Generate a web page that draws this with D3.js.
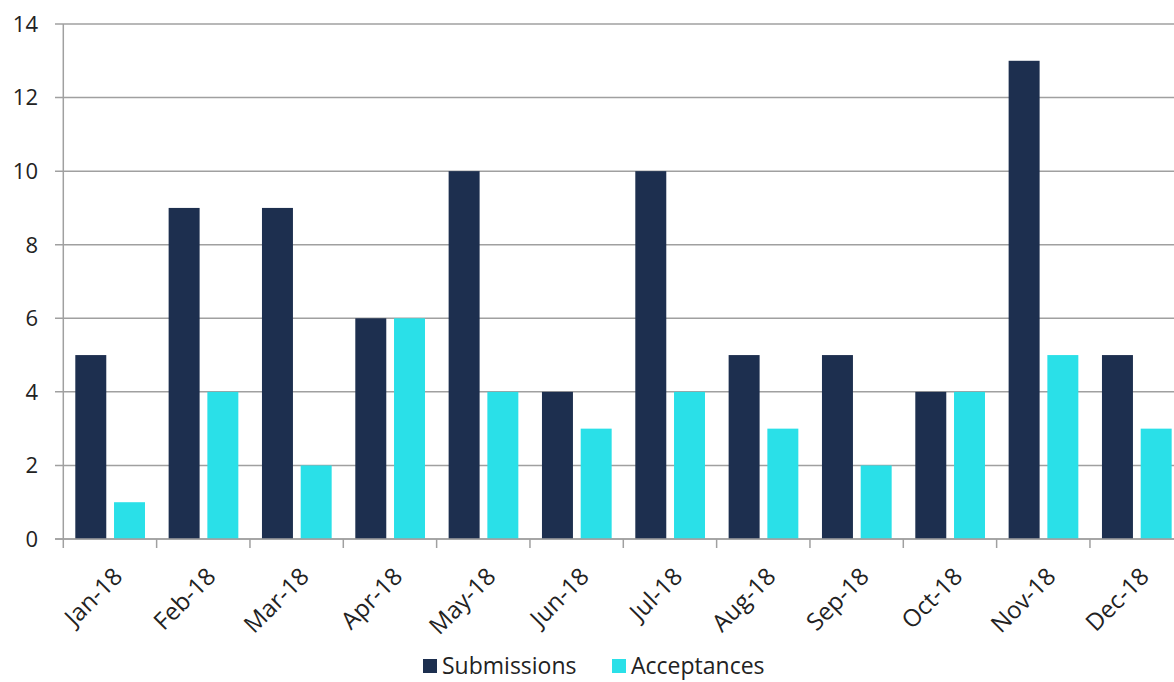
<!DOCTYPE html>
<html>
<head>
<meta charset="utf-8">
<script src="https://cdn.jsdelivr.net/npm/d3@7"></script>
<style>
  body { margin: 0; background: #fff; }
  svg { display: block; font-family: "Open Sans", Lato, sans-serif; }
</style>
</head>
<body>
<div id="chart"></div>
<script>
const months = ["Jan-18", "Feb-18", "Mar-18", "Apr-18", "May-18", "Jun-18",
  "Jul-18", "Aug-18", "Sep-18", "Oct-18", "Nov-18", "Dec-18"];
const seriesNames = ["Submissions", "Acceptances"];
const submissions = [5, 9, 9, 6, 10, 4, 10, 5, 5, 4, 13, 5];
const acceptances = [1, 4, 2, 6, 4, 3, 4, 3, 2, 4, 5, 3];
const yTicks = [0, 2, 4, 6, 8, 10, 12, 14];

const colors = ["#1d2f4f", "#2ae0e8"];

const width = 1174;
const height = 682;

const svg = d3.select("#chart").append("svg")
  .attr("width", width)
  .attr("height", height);

// plot area (the right edge runs past the window, as in the original)
const x0 = d3.scaleBand()
  .domain(months)
  .range([63.3, 1183.3]);

const x1 = d3.scaleBand()
  .domain(seriesNames)
  .range([12, 81.7])
  .paddingInner(0.2);

const y = d3.scaleLinear()
  .domain([0, 14])
  .range([539, 24]);

// gridlines
svg.append("g")
  .selectAll("line")
  .data(yTicks)
  .join("line")
  .attr("x1", 55)
  .attr("x2", width)
  .attr("y1", d => y(d))
  .attr("y2", d => y(d))
  .attr("stroke", "#a0a0a0")
  .attr("stroke-width", 1.5);

// y labels
svg.append("g")
  .selectAll("text")
  .data(yTicks)
  .join("text")
  .attr("x", 38)
  .attr("y", d => y(d))
  .attr("dy", "0.36em")
  .attr("text-anchor", "end")
  .attr("font-size", 22)
  .attr("fill", "#222")
  .text(d => d);

// bars
const rows = months.map((m, i) => ({ month: m, values: [submissions[i], acceptances[i]] }));

svg.append("g")
  .selectAll("g")
  .data(rows)
  .join("g")
  .attr("transform", d => `translate(${x0(d.month)},0)`)
  .selectAll("rect")
  .data(d => d.values.map((v, j) => ({ key: seriesNames[j], value: v, idx: j })))
  .join("rect")
  .attr("x", d => x1(d.key))
  .attr("y", d => y(d.value))
  .attr("width", x1.bandwidth())
  .attr("height", d => y(0) - y(d.value))
  .attr("fill", d => colors[d.idx]);

// axes lines
svg.append("line")
  .attr("x1", 63.3).attr("x2", 63.3)
  .attr("y1", y(14)).attr("y2", y(0))
  .attr("stroke", "#a0a0a0").attr("stroke-width", 1.5);

svg.append("line")
  .attr("x1", 55).attr("x2", width)
  .attr("y1", y(0)).attr("y2", y(0))
  .attr("stroke", "#a0a0a0").attr("stroke-width", 1.5);

// category ticks
svg.append("g")
  .selectAll("line")
  .data(months)
  .join("line")
  .attr("x1", d => x0(d))
  .attr("x2", d => x0(d))
  .attr("y1", y(0))
  .attr("y2", y(0) + 9)
  .attr("stroke", "#a0a0a0")
  .attr("stroke-width", 1.5);

// x labels, rotated
svg.append("g")
  .selectAll("text")
  .data(months)
  .join("text")
  .attr("transform", d => `translate(${x0(d) + x0.bandwidth() / 2 + 8},${572}) rotate(-45)`)
  .attr("text-anchor", "end")
  .attr("dy", "0.35em")
  .attr("font-size", 24)
  .attr("fill", "#222")
  .text(d => d);

// legend
const legend = svg.append("g");
const legendX = [423, 612];
seriesNames.forEach((name, i) => {
  legend.append("rect")
    .attr("x", legendX[i])
    .attr("y", 659)
    .attr("width", 14)
    .attr("height", 14)
    .attr("fill", colors[i]);
  legend.append("text")
    .attr("x", legendX[i] + 19)
    .attr("y", 666)
    .attr("dy", "0.36em")
    .attr("font-size", 23)
    .attr("fill", "#222")
    .text(name);
});
</script>
</body>
</html>
